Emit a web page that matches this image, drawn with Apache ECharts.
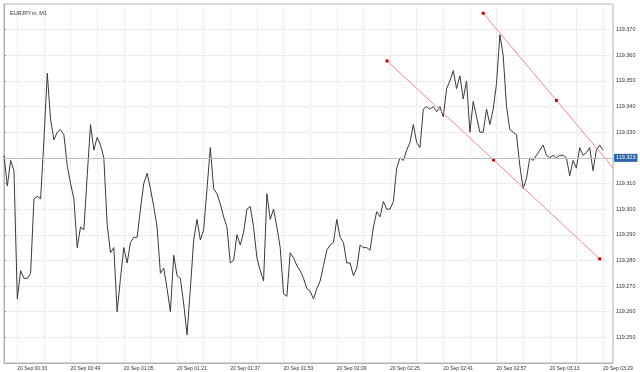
<!DOCTYPE html>
<html>
<head>
<meta charset="utf-8">
<script src="https://cdn.jsdelivr.net/npm/echarts@6/dist/echarts.min.js"></script>
<style>
html,body{margin:0;padding:0;background:#fff;}
#c{width:640px;height:372px;}
</style>
</head>
<body>
<div id="c"></div>
<script>
// ---- data ----
var symbolTitle = 'EURJPYm, M1';
var datePrefix = '20 Sep ';
var startMinute = 29;          // first bar 00:29
var barCount = 184;            // minutes shown on the time axis (00:29 .. 03:32)
var timeTickLabels = ['00:33','00:49','01:05','01:21','01:37','01:53','02:09','02:25','02:41','02:57','03:13','03:29'];
var priceTickLabels = ['119.250','119.260','119.270','119.280','119.290','119.300','119.310','119.320','119.330','119.340','119.350','119.360','119.370'];
var closes = [
119.321,119.309,119.319,119.315,119.265,119.276,119.273,119.273,119.275,119.304,
119.305,119.304,119.327,119.353,119.335,119.327,119.330,119.331,119.329,119.317,
119.310,119.304,119.285,119.293,119.292,119.313,119.333,119.323,119.328,119.325,
119.320,119.294,119.283,119.285,119.260,119.273,119.285,119.279,119.287,119.289,
119.289,119.300,119.310,119.314,119.308,119.301,119.293,119.275,119.277,119.269,
119.260,119.282,119.274,119.273,119.263,119.251,119.269,119.288,119.296,119.288,
119.292,119.308,119.324,119.308,119.306,119.302,119.297,119.293,119.279,119.280,
119.290,119.286,119.291,119.300,119.301,119.293,119.281,119.276,119.272,119.306,
119.296,119.300,119.293,119.285,119.267,119.266,119.283,119.281,119.278,119.276,
119.273,119.269,119.268,119.265,119.269,119.272,119.278,119.284,119.286,119.287,
119.296,119.289,119.287,119.279,119.279,119.274,119.277,119.286,119.285,119.285,
119.284,119.293,119.299,119.297,119.303,119.300,119.300,119.303,119.316,119.320,
119.319,119.323,119.326,119.333,119.326,119.324,119.339,119.340,119.339,119.340,
119.338,119.340,119.336,119.347,119.350,119.354,119.347,119.352,119.343,119.350,
119.330,119.342,119.336,119.330,119.330,119.339,119.333,119.339,119.349,119.368,
119.360,119.340,119.331,119.330,119.329,119.317,119.308,119.312,119.320,119.319,
119.321,119.323,119.325,119.321,119.320,119.321,119.320,119.321,119.321,119.320,
119.313,119.319,119.316,119.324,119.321,119.322,119.324,119.315,119.323,119.325,
119.323
];
var lastPrice = 119.323;
// trend lines: anchors as [bar index, price]
var upperTrendX = [144, 166, 188];
var upperTrendY = [119.3764, 119.3424, 119.3084];
var lowerTrendX = [115.1, 147.1, 179];
var lowerTrendY = [119.3578, 119.3192, 119.2806];

// ---- build ----
function pad(n){return (n<10?'0':'')+n;}
var times = [];
for (var i=0;i<barCount;i++){
  var m = startMinute + i;
  times.push(pad(Math.floor(m/60)) + ':' + pad(m%60));
}
var seriesData = times.map(function(t,i){ return i<closes.length ? closes[i] : null; });
var tickSet = {};
timeTickLabels.forEach(function(t){tickSet[t]=true;});
function gridIdx(i){ return (i - 4) % 8 === 0 && i >= 4; }
function pairs(xs, ys){ return xs.map(function(x,i){return [x, ys[i]];}); }

var chart = echarts.init(document.getElementById('c'), null, {renderer:'canvas'});
var font = 'Liberation Sans, Arial, sans-serif';
chart.setOption({
  animation:false,
  backgroundColor:'#ffffff',
  title:{text:symbolTitle,left:5,top:5,textStyle:{fontSize:5.5,fontWeight:'normal',color:'#333',fontFamily:font}},
  grid:{left:4,right:27,top:4,bottom:9,show:true,borderColor:'#b0b0b0',borderWidth:1,backgroundColor:'#fff'},
  xAxis:[{
    type:'category',data:times,boundaryGap:false,
    axisLine:{show:true,lineStyle:{color:'#b0b0b0',width:1}},
    axisTick:{show:false},
    axisLabel:{interval:function(i,v){return !!tickSet[v];},formatter:function(v){return datePrefix+v;},
      align:'left',fontSize:5,margin:3,color:'#333',fontFamily:font},
    splitLine:{show:true,interval:function(i){return gridIdx(i);},lineStyle:{color:'#dedede',type:[1,1],width:1}}
  },{
    type:'value',min:0,max:barCount-1,show:false
  }],
  yAxis:{
    type:'value',position:'right',min:119.24,max:119.38,interval:0.01,scale:true,
    axisLine:{show:true,lineStyle:{color:'#b0b0b0'}},
    axisTick:{show:true,length:2,lineStyle:{color:'#999'}},
    axisLabel:{showMinLabel:false,showMaxLabel:false,fontSize:5.5,margin:3,color:'#333',fontFamily:font,
      formatter:function(v){var s=v.toFixed(3);return priceTickLabels.indexOf(s)>=0?s:'';}},
    splitLine:{show:true,lineStyle:{color:'#dedede',type:[1,1],width:1}}
  },
  series:[{
    type:'line',data:seriesData,xAxisIndex:0,showSymbol:false,symbol:'none',
    lineStyle:{color:'#3a3a3a',width:1},z:3,
    markLine:{silent:true,symbol:'none',animation:false,
      lineStyle:{color:'#b8bfcc',type:'solid',width:1},
      label:{show:true,position:'end',formatter:function(){return lastPrice.toFixed(3);},
        backgroundColor:'#2c64a8',color:'#fff',fontSize:5.5,fontFamily:font,padding:[1,2,1,2],distance:1},
      data:[{yAxis:lastPrice}]}
  },{
    type:'line',xAxisIndex:1,data:pairs(upperTrendX,upperTrendY),symbol:'rect',symbolSize:3,showSymbol:true,
    itemStyle:{color:'#cc0000'},lineStyle:{color:'#f08a8a',width:1},z:4,clip:true
  },{
    type:'line',xAxisIndex:1,data:pairs(lowerTrendX,lowerTrendY),symbol:'rect',symbolSize:3,showSymbol:true,
    itemStyle:{color:'#cc0000'},lineStyle:{color:'#f08a8a',width:1},z:4,clip:true
  }]
});
</script>
</body>
</html>
